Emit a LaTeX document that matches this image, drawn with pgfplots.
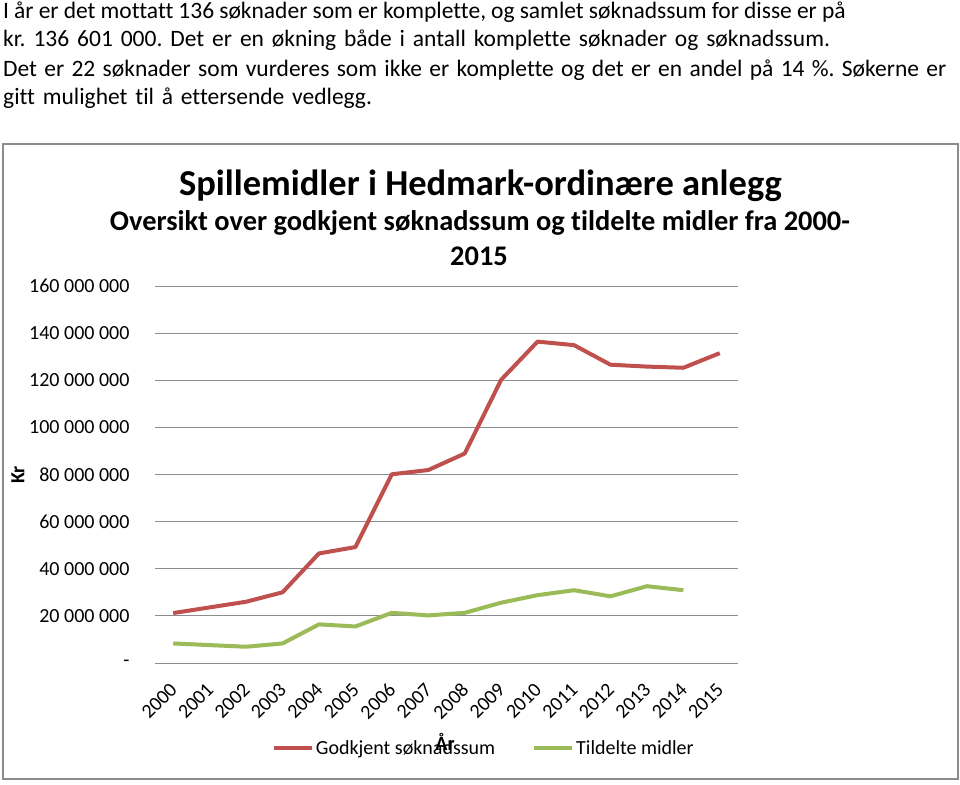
\documentclass[border=0pt]{standalone}
\usepackage{fontspec}
\setmainfont[Ligatures={NoCommon}]{Carlito}
\usepackage{pgfplots}
\pgfplotsset{compat=1.18}
\definecolor{redl}{HTML}{C0504D}
\definecolor{greenl}{HTML}{9BBB59}
\definecolor{gridc}{HTML}{8C8C8C}
\frenchspacing
\begin{document}
\begin{tikzpicture}[x=1pt,y=1pt]
\useasboundingbox (0,0) rectangle (960,-784);
\fill[white] (0,0) rectangle (960,-784);
% paragraph text
\begin{scope}[every node/.style={anchor=base west, inner sep=0pt, font=\fontsize{23.5}{26}\selectfont}]
\node at (3,-18.5) {\spaceskip=5.1pt plus 1pt I år er det mottatt 136 søknader som er komplette, og samlet søknadssum for disse er på};
\node at (3,-47) {\spaceskip=7.9pt plus 1pt kr. 136 601 000. Det er en økning både i antall komplette søknader og søknadssum.};
\node at (3,-76) {\spaceskip=7.3pt plus 1pt Det er 22 søknader som vurderes som ikke er komplette og det er en andel på 14 \%. Søkerne er};
\node at (3,-104.5) {\spaceskip=7.8pt plus 1pt gitt mulighet til å ettersende vedlegg.};
\end{scope}
% chart frame
\draw[gridc, line width=1.5pt] (3,-144) rectangle (958,-779);
% titles
\node[anchor=base, inner sep=0pt, font=\fontsize{36.5}{40}\selectfont\bfseries] at (480.5,-195) {Spillemidler i Hedmark-ordinære anlegg};
\node[anchor=base, inner sep=0pt, font=\fontsize{28.4}{30}\selectfont\bfseries] at (480,-230) {Oversikt over godkjent søknadssum og tildelte midler fra 2000-};
\node[anchor=base, inner sep=0pt, font=\fontsize{28.4}{30}\selectfont\bfseries] at (479,-265) {2015};
\node[rotate=90, inner sep=0pt, font=\fontsize{20}{22}\selectfont\bfseries] at (18,-475) {Kr};
\begin{axis}[
  at={(155pt,-663pt)}, anchor=south west,
  scale only axis, width=583pt, height=377pt,
  xmin=-0.5, xmax=15.5, ymin=0, ymax=160000000,
  axis line style={draw=none},
  major tick length=0pt,
  ytick={0,20000000,40000000,60000000,80000000,100000000,120000000,140000000,160000000},
  yticklabels={-,20 000 000,40 000 000,60 000 000,80 000 000,100 000 000,120 000 000,140 000 000,160 000 000},
  xtick={0,...,15},
  xticklabels={2000,2001,2002,2003,2004,2005,2006,2007,2008,2009,2010,2011,2012,2013,2014,2015},
  ymajorgrids, grid style={gridc, line width=1pt},
  tick label style={font=\fontsize{20}{22}\selectfont},
  yticklabel style={anchor=east, xshift=-22pt},
  xticklabel style={rotate=45, anchor=east, xshift=-13pt, yshift=-17pt},
  scaled y ticks=false,
  legend style={at={(rel axis cs:0.564,-0.225)}, anchor=center, draw=none, fill=none,
    legend columns=2, font=\fontsize{20}{22}\selectfont,
    /tikz/every even column/.append style={column sep=35pt}},
  legend image code/.code={\draw[#1] (0pt,0pt) -- (38pt,0pt);},
  clip=false,
]
\addplot[redl, line width=4pt, line join=round] coordinates {
(0,21200000) (1,23600000) (2,26000000) (3,30000000) (4,46500000) (5,49200000)
(6,80100000) (7,81900000) (8,88900000) (9,120200000) (10,136400000) (11,134900000)
(12,126600000) (13,125800000) (14,125300000) (15,131500000)};
\addlegendentry{Godkjent søknadssum}
\addplot[greenl, line width=4pt, line join=round] coordinates {
(0,8300000) (1,7600000) (2,6900000) (3,8300000) (4,16400000) (5,15500000)
(6,21300000) (7,20200000) (8,21300000) (9,25600000) (10,28800000) (11,30900000)
(12,28300000) (13,32600000) (14,30900000)};
\addlegendentry{Tildelte midler}
\end{axis}
\node[inner sep=0pt, font=\fontsize{20}{22}\selectfont\bfseries] at (445,-742) {År};
\end{tikzpicture}
\end{document}
